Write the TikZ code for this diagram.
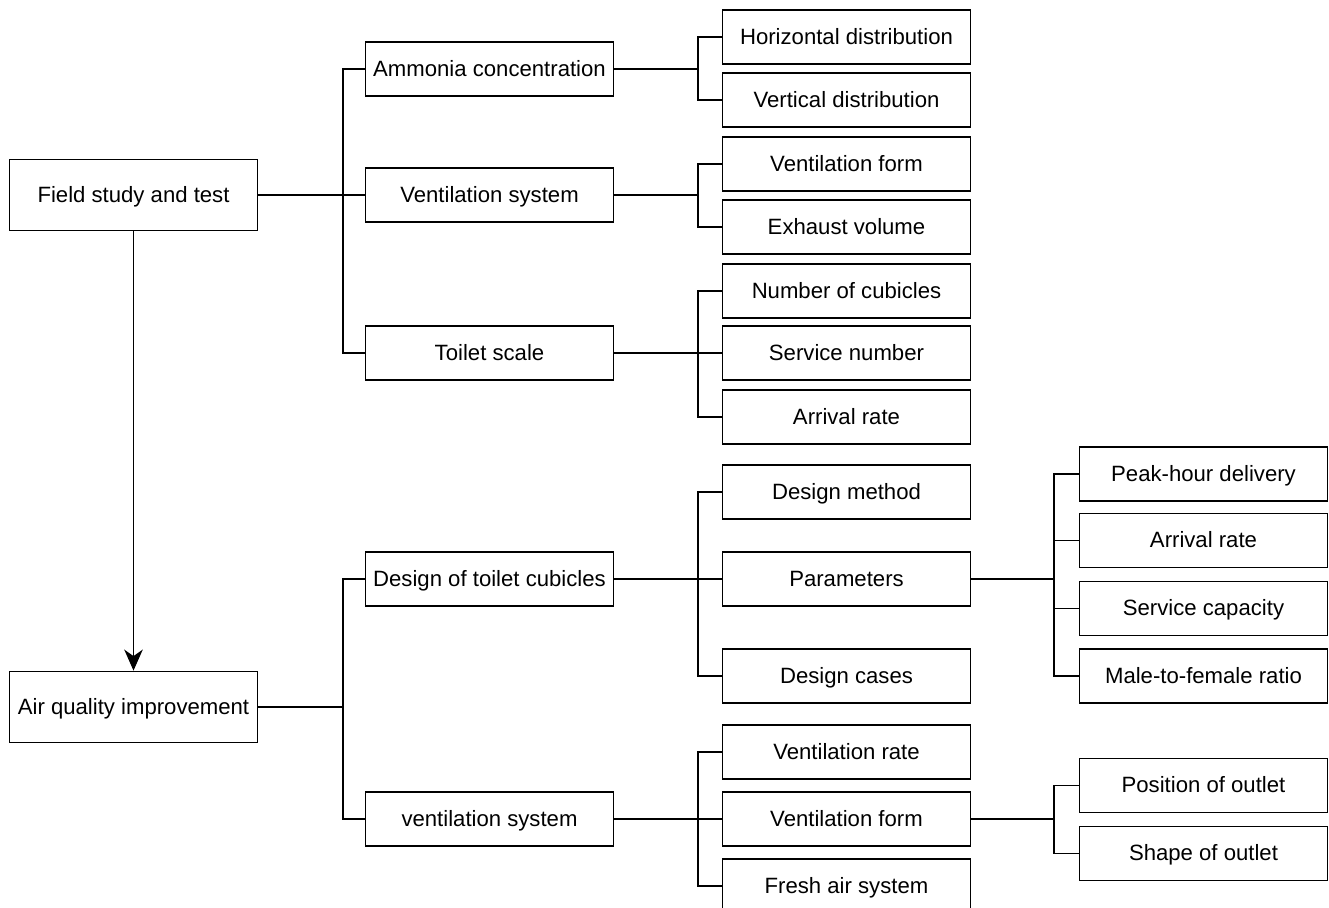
\documentclass[tikz,border=0pt]{standalone}
\usepackage{fontspec}
\setmainfont{Liberation Sans}
\usetikzlibrary{arrows.meta}

\begin{document}
\begin{tikzpicture}[line width=1.1pt]
\tikzstyle{box}=[rectangle,draw=black,line width=1pt,minimum width=4.96cm,minimum height=1.08cm,inner sep=1pt,text height=8.2pt,text depth=0pt,font=\fontsize{12.6}{15}\selectfont]
\tikzstyle{root}=[box,minimum height=1.42cm]
\tikzstyle{link}=[draw=black,line width=1.1pt]
\useasboundingbox (0,0) rectangle (26.58,-18.16);
\clip (0,0) rectangle (26.58,-18.16);

% first level
\node [root] (0) at(2.67,-3.90) {Field study and test};
\node [root] (1) at(2.67,-14.14) {Air quality improvement};

% second level
\node [box] (2) at(9.79,-1.38) {Ammonia concentration};
\node [box] (3) at(9.79,-3.90) {Ventilation system};
\node [box] (4) at(9.79,-7.06) {Toilet scale};
\node [box] (5) at(9.79,-11.58) {Design of toilet cubicles};
\node [box] (6) at(9.79,-16.38) {ventilation system};

% third level
\node [box] (7) at(16.93,-0.74) {Horizontal distribution};
\node [box] (8) at(16.93,-2.00) {Vertical distribution};
\node [box] (9) at(16.93,-3.28) {Ventilation form};
\node [box] (10) at(16.93,-4.54) {Exhaust volume};
\node [box] (11) at(16.93,-5.82) {Number of cubicles};
\node [box] (12) at(16.93,-7.06) {Service number};
\node [box] (13) at(16.93,-8.34) {Arrival rate};
\node [box] (14) at(16.93,-9.84) {Design method};
\node [box] (15) at(16.93,-11.58) {Parameters};
\node [box] (16) at(16.93,-13.52) {Design cases};
\node [box] (17) at(16.93,-15.04) {Ventilation rate};
\node [box] (18) at(16.93,-16.38) {Ventilation form};
\node [box] (19) at(16.93,-17.72) {Fresh air system};

% fourth level
\node [box] (20) at(24.07,-9.48) {Peak-hour delivery};
\node [box] (21) at(24.07,-10.81) {Arrival rate};
\node [box] (22) at(24.07,-12.17) {Service capacity};
\node [box] (23) at(24.07,-13.52) {Male-to-female ratio};
\node [box] (24) at(24.07,-15.71) {Position of outlet};
\node [box] (25) at(24.07,-17.07) {Shape of outlet};

\coordinate (b1) at(6.86,0);
\coordinate (b2) at(13.96,0);
\coordinate (b3) at(21.08,0);

\draw [link,-{Stealth[length=4.2mm,width=3.7mm,inset=1.3mm]}] (0) -- (1);

\draw [link] (0.east) -- (0.east -| b1) |- (2.west);
\draw [link] (0.east) -- (0.east -| b1) |- (3.west);
\draw [link] (0.east) -- (0.east -| b1) |- (4.west);
\draw [link] (1.east) -- (1.east -| b1) |- (5.west);
\draw [link] (1.east) -- (1.east -| b1) |- (6.west);

\draw [link] (2.east) -- (2.east -| b2) |- (7.west);
\draw [link] (2.east) -- (2.east -| b2) |- (8.west);
\draw [link] (3.east) -- (3.east -| b2) |- (9.west);
\draw [link] (3.east) -- (3.east -| b2) |- (10.west);
\draw [link] (4.east) -- (4.east -| b2) |- (11.west);
\draw [link] (4.east) -- (4.east -| b2) |- (12.west);
\draw [link] (4.east) -- (4.east -| b2) |- (13.west);
\draw [link] (5.east) -- (5.east -| b2) |- (14.west);
\draw [link] (5.east) -- (5.east -| b2) |- (15.west);
\draw [link] (5.east) -- (5.east -| b2) |- (16.west);
\draw [link] (6.east) -- (6.east -| b2) |- (17.west);
\draw [link] (6.east) -- (6.east -| b2) |- (18.west);
\draw [link] (6.east) -- (6.east -| b2) |- (19.west);

\draw [link] (15.east) -- (15.east -| b3) |- (20.west);
\draw [link] (15.east) -- (15.east -| b3) |- (21.west);
\draw [link] (15.east) -- (15.east -| b3) |- (22.west);
\draw [link] (15.east) -- (15.east -| b3) |- (23.west);
\draw [link] (18.east) -- (18.east -| b3) |- (24.west);
\draw [link] (18.east) -- (18.east -| b3) |- (25.west);
\end{tikzpicture}
\end{document}
